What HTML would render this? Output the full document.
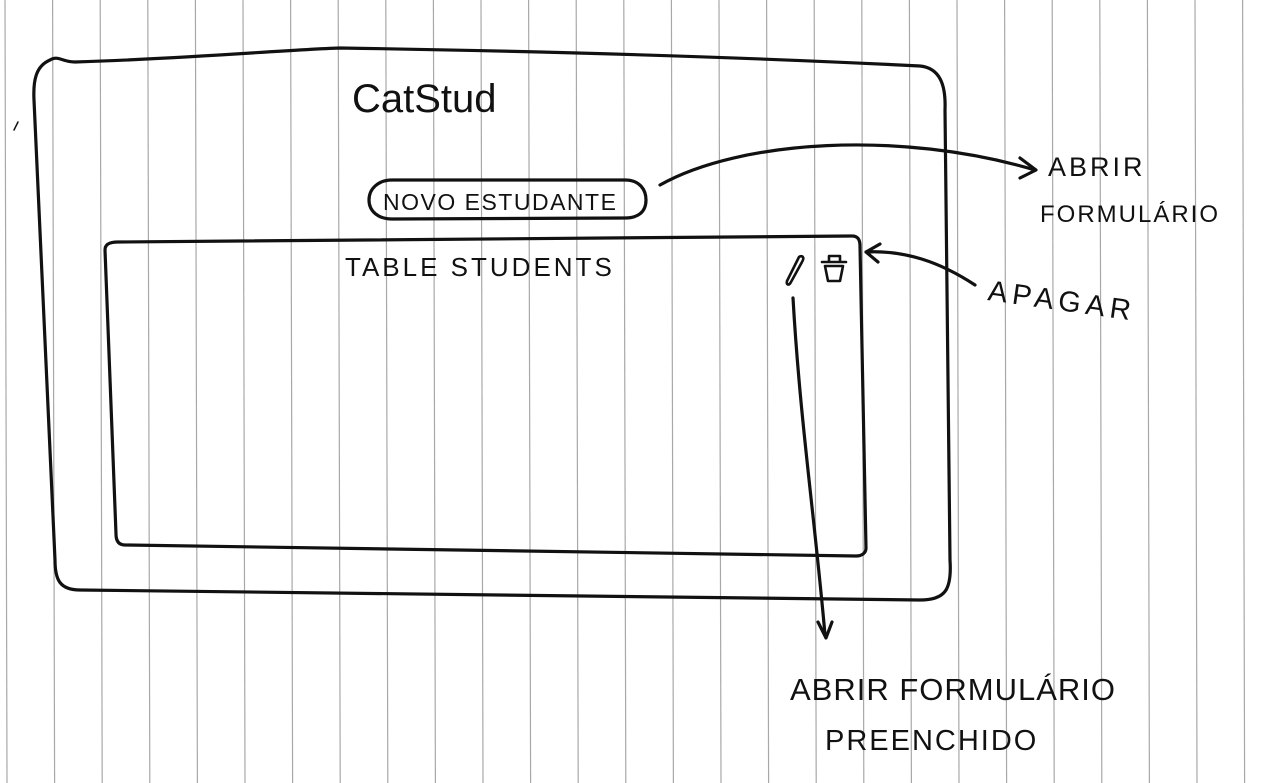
<!DOCTYPE html>
<html><head><meta charset="utf-8"><style>
html,body{margin:0;padding:0;background:#fff;width:1280px;height:783px;overflow:hidden}
svg{display:block}
text{font-family:"Liberation Sans",sans-serif;fill:#111}
</style></head><body>
<svg width="1280" height="783" viewBox="0 0 1280 783">
<g id="lines"></g>
<g fill="none" stroke="#111" stroke-width="3.2" stroke-linecap="round" stroke-linejoin="round">
<path d="M50,60 C58,55 62,62 75,62 C200,58 280,50 340,48 C600,52 800,60 920,66 C940,68 946,85 945,110 L950,560 C952,590 945,600 920,600 L80,590 C60,590 55,580 55,560 L34,100 C33,80 36,66 50,60 Z"/>
<path d="M118,242 L852,236 C858,236 860,240 860,246 L866,548 C866,553 862,556 856,556 L125,545 C118,545 116,540 116,534 L105,250 C105,244 110,242 118,242 Z"/>
<path d="M392,180 L625,180 C640,180 646,190 646,200 C646,212 638,218 625,218 L392,219 C378,219 369,211 369,200 C369,189 378,180 392,180 Z"/>
<path d="M660,185 C740,140 900,130 1035,170 M1020,158 L1036,170 L1020,178"/>
<path d="M975,285 C940,262 905,250 866,252 M880,244 L866,252 L878,262"/>
<path d="M793,298 C800,420 815,520 825,635 M818,622 L826,638 L832,622"/>
<path stroke-width="2.6" d="M799,257 C802,255 805,257 802,262 L791,282 C789,286 786,285 787,281 Z"/>
<path stroke-width="2.6" d="M822,262 L846,262 M829,262 L829,256 L840,256 L840,262 M825,266 L843,266 L840,281 L828,281 Z"/>
<path d="M14,130 L18,122" stroke-width="1.5"/>
</g>
<text x="352" y="112" font-size="40">CatStud</text>
<text x="383" y="210" font-size="23" letter-spacing="1.5">NOVO ESTUDANTE</text>
<text x="345" y="276" font-size="26" letter-spacing="3">TABLE STUDENTS</text>
<text x="1048" y="176" font-size="27" letter-spacing="3">ABRIR</text>
<text x="1040" y="222" font-size="24" letter-spacing="2">FORMULÁRIO</text>
<text x="987" y="300" font-size="29" letter-spacing="5" transform="rotate(8 987 300)">APAGAR</text>
<text x="790" y="700" font-size="31" letter-spacing="1">ABRIR FORMULÁRIO</text>
<text x="825" y="750" font-size="29" letter-spacing="2">PREENCHIDO</text>
</svg>
<script>
var g=document.getElementById('lines');
for(var x=5;x<1280;x+=47.6){
 var l=document.createElementNS('http://www.w3.org/2000/svg','line');
 
 
 l.setAttribute('x1',x);l.setAttribute('x2',x+2);
 l.setAttribute('y1',0);l.setAttribute('y2',783);
 l.setAttribute('stroke','#a8a8a8');l.setAttribute('stroke-width','1.2');
 g.appendChild(l);
}
</script>
</body></html>
